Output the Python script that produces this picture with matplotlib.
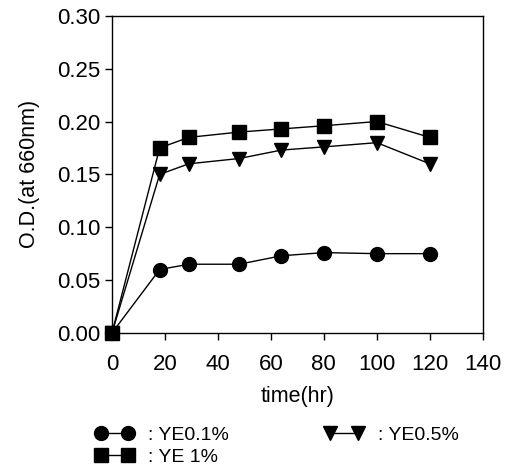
import matplotlib
matplotlib.use('Agg')
import matplotlib.pyplot as plt

plt.rcParams['font.family'] = ['Liberation Sans', 'DejaVu Sans']

# sampling times (hr)
time_hr = [0, 18, 29, 48, 64, 80, 100, 120]

# O.D. at 660nm for each yeast extract level
od_ye01 = [0.0, 0.060, 0.065, 0.065, 0.073, 0.076, 0.075, 0.075]
od_ye05 = [0.0, 0.150, 0.160, 0.165, 0.173, 0.176, 0.180, 0.160]
od_ye1 = [0.0, 0.175, 0.185, 0.190, 0.193, 0.196, 0.200, 0.185]

x_ticks = [0, 20, 40, 60, 80, 100, 120, 140]
y_ticks = [0.00, 0.05, 0.10, 0.15, 0.20, 0.25, 0.30]

fig = plt.figure(figsize=(5.1, 4.65), dpi=100)
ax = fig.add_axes([0.2196, 0.284, 0.727, 0.682])

l1, = ax.plot(time_hr, od_ye01, color='black', lw=1, marker='o', ms=10,
              label=': YE0.1%', clip_on=False, zorder=3)
l3, = ax.plot(time_hr, od_ye1, color='black', lw=1, marker='s', ms=9.5,
              label=': YE 1%', clip_on=False, zorder=3)
l2, = ax.plot(time_hr, od_ye05, color='black', lw=1, marker='v', ms=10,
              label=': YE0.5%', clip_on=False, zorder=3)

ax.set_xlim(0, 140)
ax.set_ylim(0, 0.30)
ax.set_xticks(x_ticks)
ax.set_yticks(y_ticks)
ax.set_yticklabels(['%.2f' % v for v in y_ticks])
ax.tick_params(axis='both', labelsize=16, direction='out', length=5, width=1)
ax.tick_params(axis='x', pad=10)
for s in ax.spines.values():
    s.set_linewidth(1)

ax.set_xlabel('time(hr)', fontsize=15.5, labelpad=8)
ax.set_ylabel('O.D.(at 660nm)', fontsize=15.5, labelpad=12)

fig.legend(handles=[l1, l3, l2], ncol=2, numpoints=2, frameon=False,
           fontsize=14, loc='upper left', bbox_to_anchor=(0.186, 0.084),
           handlelength=2.0, handletextpad=0.75, columnspacing=4.9,
           labelspacing=0.25, borderpad=0, borderaxespad=0)

fig.savefig('out.png', dpi=100)
